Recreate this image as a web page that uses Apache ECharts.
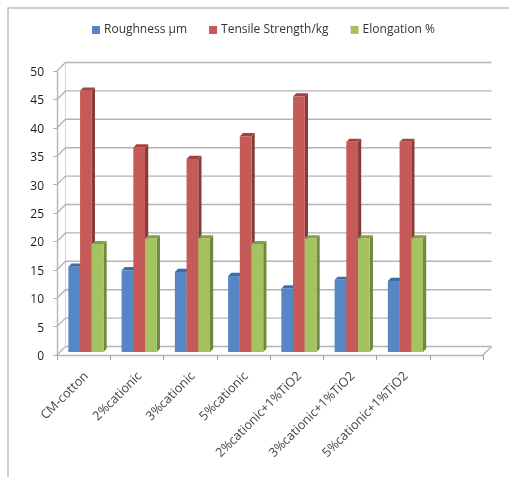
<!DOCTYPE html>
<html><head><meta charset="utf-8">
<style>html,body{margin:0;padding:0;background:#fff}#c{width:509px;height:477px}</style>
<script src="https://cdn.jsdelivr.net/npm/echarts@6/dist/echarts.min.js"></script>
</head><body><div id="c"></div>
<script>
const categories = ['CM-cotton','2%cationic','3%cationic','5%cationic','2%cationic+1%TiO2','3%cationic+1%TiO2','5%cationic+1%TiO2',''];
const roughness = [15,14.4,14.1,13.4,11.2,12.7,12.5];
const tensile = [46,36,34,38,45,37,37];
const elongation = [19,20,20,19,20,20,20];
const yTicks = [0,5,10,15,20,25,30,35,40,45,50];
const FONT = '"Open Sans","Noto Sans",sans-serif';
const DX = 8.5, DY = 8.5, GRID = '#b4b4b4';

function wall(params, api){
  const cs = params.coordinateSys || params.coordSys;
  const v = api.value(1), y = api.coord([0, v])[1], x0 = cs.x, x1 = cs.x + cs.width;
  const st = {stroke: GRID, lineWidth: 1.4, fill: null};
  const kids = [
    {type:'polyline', shape:{points:[[x0,y],[x0+DX,y-DY],[x1+DX,y-DY]]}, style:st}
  ];
  if (v === 0) {
    kids.push({type:'polyline', shape:{points:[[x1,y],[x1+DX,y-DY]]}, style:st});
    kids.push({type:'line', shape:{x1:x0+DX,y1:y-DY,x2:x0+DX,y2:api.coord([0,50])[1]-DY}, style:{stroke:'#d4d4d4',lineWidth:1}});
  }
  return {type:'group', children:kids};
}
function bar3d(idx, front, top, side){
  return function(params, api){
    const band = api.size([1,0])[0], w = band*0.22, d = 3.2;
    const c = api.coord([api.value(0), api.value(1)]);
    const base = api.coord([api.value(0), 0])[1] - 3;
    const x = c[0] + 2.3 + (idx-1.5)*w, y = c[1] - 3;
    return {type:'group', children:[
      {type:'polygon', shape:{points:[[x+w,y],[x+w+d,y-d],[x+w+d,base-d],[x+w,base]]}, style:{fill:side}},
      {type:'polygon', shape:{points:[[x,y],[x+d,y-d],[x+w+d,y-d],[x+w,y]]}, style:{fill:top}},
      {type:'rect', shape:{x:x,y:y,width:w,height:base-y}, style:{fill:front}}
    ]};
  };
}
function series(name, values, idx, front, top, side){
  return {name, type:'custom', z:3+idx, itemStyle:{color:front},
    renderItem: bar3d(idx, front, top, side),
    encode:{x:0,y:1}, data: values.map((v,i)=>[i,v])};
}
const chart = echarts.init(document.getElementById('c'), null, {renderer:'canvas'});
chart.setOption({
  animation:false, backgroundColor:'#fff',
  graphic:[
    {type:'polyline', z:0, shape:{points:[[8,477],[8,8],[509,8]]}, style:{stroke:'#bdbdbd',lineWidth:1.5,fill:null}}
  ],
  legend:{
    data:['Roughness µm','Tensile Strength/kg','Elongation %'],
    left:87, top:19, itemWidth:8, itemHeight:8, itemGap:22, icon:'rect',
    textStyle:{fontFamily:FONT, fontSize:12, color:'#333', padding:[0,0,0,-1]}
  },
  grid:{left:57, top:71, width:426, height:284},
  xAxis:{type:'category', data:categories, boundaryGap:true,
    axisLine:{lineStyle:{color:GRID,width:1.4}},
    axisTick:{show:true,length:5,alignWithLabel:false,lineStyle:{color:'#a0a0a0'}},
    axisLabel:{rotate:45,interval:0,margin:22,padding:[0,-4,0,0],fontFamily:FONT,fontSize:12.6,color:'#444'},
    splitLine:{show:false}},
  yAxis:{type:'value', min:0, max:50, interval:5,
    axisLine:{show:true,lineStyle:{color:GRID,width:1.4}},
    axisTick:{show:true,length:4,lineStyle:{color:GRID}},
    axisLabel:{margin:13,fontFamily:FONT,fontSize:12,color:'#1a1a2a',verticalAlign:'top',lineHeight:3},
    splitLine:{show:false}},
  series:[
    {name:'walls', type:'custom', z:1, renderItem:wall, encode:{x:0,y:1}, silent:true,
      data:yTicks.map(v=>[0,v])},
    series('Roughness µm', roughness, 0, '#5686c4', '#3f6da6', '#3f6193'),
    series('Tensile Strength/kg', tensile, 1, '#c55a58', '#a34340', '#853c3a'),
    series('Elongation %', elongation, 2, '#a5c261', '#85a044', '#71893f')
  ]
});
</script></body></html>
